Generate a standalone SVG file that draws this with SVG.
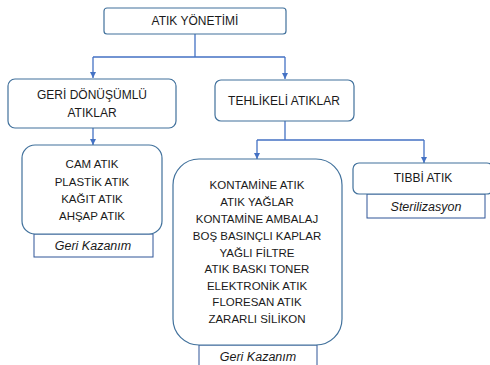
<svg xmlns="http://www.w3.org/2000/svg" width="490" height="365" viewBox="0 0 490 365">
<defs>
<marker id="arr" viewBox="0 0 10 10" refX="10" refY="5" markerWidth="6" markerHeight="6" markerUnits="userSpaceOnUse" orient="auto">
<path d="M0,0 L10,5 L0,10 z" fill="#4472C4"/>
</marker>
<style>
.box{fill:#fff;stroke:#41719C;stroke-width:1.2}
.sub{fill:#fff;stroke:#2F5597;stroke-width:1}
.t{font-family:"Liberation Sans",Arial,sans-serif;font-size:11.5px;fill:#1a1a1a;text-anchor:middle}
.h{font-size:12px}
.i{font-family:"Liberation Sans",Arial,sans-serif;font-size:12.5px;font-style:italic;fill:#1a1a1a;text-anchor:middle}
.c{fill:none;stroke:#4472C4;stroke-width:1.3}
</style>
</defs>
<rect width="490" height="365" fill="#fff"/>
<g id="connectors">
<path class="c" d="M195,34 V57 M93,57 H285"/>
<path class="c" d="M93,57 V78" marker-end="url(#arr)"/>
<path class="c" d="M285,57 V79" marker-end="url(#arr)"/>
<path class="c" d="M93,128 V145" marker-end="url(#arr)"/>
<path class="c" d="M285,121 V140 M257,140 H424"/>
<path class="c" d="M257,140 V159" marker-end="url(#arr)"/>
<path class="c" d="M424,140 V163" marker-end="url(#arr)"/>
</g>
<g id="atik-yonetimi">
<rect class="box" x="104" y="8" width="182" height="26" rx="3"/>
<text class="t h" x="195" y="25">ATIK YÖNETİMİ</text>
</g>
<g id="geri-donusumlu">
<rect class="box" x="8" y="79" width="168" height="49" rx="7"/>
<text class="t h" x="92" y="99">GERİ DÖNÜŞÜMLÜ</text>
<text class="t h" x="92" y="117">ATIKLAR</text>
</g>
<g id="tehlikeli">
<rect class="box" x="215" y="80" width="139" height="41" rx="6"/>
<text class="t h" x="284" y="105">TEHLİKELİ ATIKLAR</text>
</g>
<g id="geri-kazanim-1">
<rect class="sub" x="34" y="234" width="119" height="23"/>
<text class="i" x="93" y="250">Geri Kazanım</text>
</g>
<g id="cam">
<rect class="box" x="22" y="145" width="140" height="89" rx="13"/>
<text class="t" x="92" y="168">CAM ATIK</text>
<text class="t" x="92" y="186">PLASTİK ATIK</text>
<text class="t" x="92" y="203">KAĞIT ATIK</text>
<text class="t" x="92" y="220">AHŞAP ATIK</text>
</g>
<g id="geri-kazanim-2">
<rect class="sub" x="199" y="345" width="118" height="30"/>
<text class="i" x="258" y="361">Geri Kazanım</text>
</g>
<g id="kontamine">
<rect class="box" x="173" y="159" width="169" height="186" rx="26"/>
<text class="t" x="257" y="189">KONTAMİNE ATIK</text>
<text class="t" x="257" y="206">ATIK YAĞLAR</text>
<text class="t" x="257" y="223">KONTAMİNE AMBALAJ</text>
<text class="t" x="257" y="240">BOŞ BASINÇLI KAPLAR</text>
<text class="t" x="257" y="257">YAĞLI FİLTRE</text>
<text class="t" x="257" y="273">ATIK BASKI TONER</text>
<text class="t" x="257" y="290">ELEKTRONİK ATIK</text>
<text class="t" x="257" y="306">FLORESAN ATIK</text>
<text class="t" x="257" y="323">ZARARLI SİLİKON</text>
</g>
<g id="sterilizasyon">
<rect class="sub" x="367" y="194" width="118" height="24"/>
<text class="i" x="426" y="211">Sterilizasyon</text>
</g>
<g id="tibbi">
<rect class="box" x="353" y="163" width="140" height="31" rx="6"/>
<text class="t h" x="423" y="182">TIBBİ ATIK</text>
</g>
</svg>
